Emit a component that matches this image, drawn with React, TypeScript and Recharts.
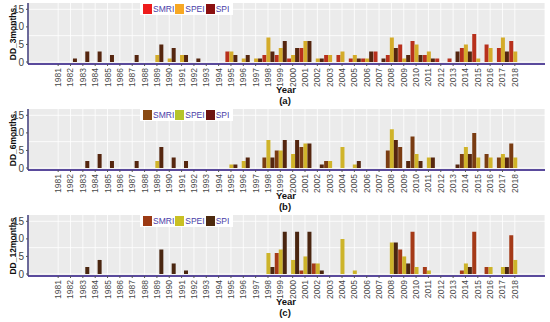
import React from 'react';
import { BarChart, Bar, XAxis, YAxis, CartesianGrid } from 'recharts';

const YEARS = [
  '1981', '1982', '1983', '1984', '1985', '1986', '1987', '1988', '1989', '1990',
  '1991', '1992', '1993', '1994', '1995', '1996', '1997', '1998', '1999', '2000',
  '2001', '2002', '2003', '2004', '2005', '2006', '2007', '2008', '2009', '2010',
  '2011', '2012', '2013', '2014', '2015', '2016', '2017', '2018',
];

// DD_3months
const SMRI_3 = [0,0,0,0,0,0,0,0,0,0,0,0,0,0,3,0,0,2,2,1,4,0,2,2,1,1,3,2,5,6,2,1,1,4,8,5,4,6];
const SPEI_3 = [0,0,0,0,0,0,0,0,2,1,2,0,0,0,3,1,1,7,4,2,6,1,2,3,2,1,0,7,1,5,3,0,0,5,1,4,7,3];
const SPI_3 = [0,1,3,3,2,0,2,0,5,4,2,1,0,0,2,2,1,3,6,4,6,1,0,0,1,3,1,4,2,2,1,0,3,3,0,0,3,0];

// DD_6months
const SMRI_6 = [0,0,0,0,0,0,0,0,0,0,0,0,0,0,0,0,0,3,5,0,6,0,2,0,0,0,0,5,6,9,0,0,0,4,10,4,3,7];
const SPEI_6 = [0,0,0,0,0,0,0,0,2,0,0,0,0,0,1,2,0,8,5,4,7,0,2,6,1,0,0,11,0,4,3,0,0,6,3,3,4,3];
const SPI_6 = [0,0,2,4,2,0,2,0,6,3,2,0,0,0,1,3,0,3,8,8,7,1,0,0,2,0,0,8,2,2,3,0,1,4,0,0,3,0];

// DD_12months
const SMRI_12 = [0,0,0,0,0,0,0,0,0,0,0,0,0,0,0,0,0,0,6,0,1,3,0,0,0,0,0,0,7,12,2,0,0,1,12,2,0,11];
const SPEI_12 = [0,0,0,0,0,0,0,0,0,0,0,0,0,0,0,0,0,6,7,4,5,3,0,10,1,0,0,9,5,2,1,0,0,3,0,2,2,4];
const SPI_12 = [0,0,2,4,0,0,0,0,7,3,1,0,0,0,0,0,0,2,12,12,12,1,0,0,0,0,0,9,3,0,0,0,0,2,0,0,2,0];

const FONT = '"Liberation Sans", Arial, sans-serif';
const GRID_Y = [0, 2.5, 5, 7.5, 10, 12.5, 15];

const YearTick = (props: any) => {
  const { x, y, payload } = props;
  return (
    <g transform={`translate(${x},${y}) rotate(-90)`}>
      <text x={0} y={0} dy="0.35em" textAnchor="end" fontSize={8.5} fill="#4a4a4a" fontFamily={FONT}>
        {payload.value}
      </text>
    </g>
  );
};

type PanelProps = {
  top: number;
  yLabel: string;
  tag: string;
  smri: number[];
  spei: number[];
  spi: number[];
  colors: string[];
  legendColors: string[];
};

const Panel = ({ top, yLabel, tag, smri, spei, spi, colors, legendColors }: PanelProps) => {
  const data = YEARS.map((year, i) => ({ year, SMRI: smri[i], SPEI: spei[i], SPI: spi[i] }));
  const names = ['SMRI', 'SPEI', 'SPI'];

  return (
    <div style={{ position: 'absolute', left: 0, top, width: 550, height: 106, fontFamily: FONT }}>
      <BarChart
        width={550}
        height={106}
        data={data}
        margin={{ top: 3, right: 5, bottom: 0, left: 0 }}
        barCategoryGap={0.6}
        barGap={0}
      >
        <CartesianGrid fill="#ebebeb" stroke="#ffffff" strokeWidth={0.8} horizontalValues={GRID_Y} />
        <XAxis
          dataKey="year"
          interval={0}
          height={42}
          padding={{ left: 24, right: 24 }}
          tick={<YearTick />}
          tickSize={2}
          tickLine={{ stroke: '#555' }}
          axisLine={{ stroke: '#5a4a9c', strokeWidth: 2 }}
        />
        <YAxis
          width={28}
          domain={[-0.57, 16.8]}
          ticks={[0, 5, 10, 15]}
          allowDataOverflow
          tickSize={2}
          tickLine={{ stroke: '#555' }}
          axisLine={{ stroke: '#3d3a7a', strokeWidth: 1.5 }}
          tick={{ fontSize: 10, fill: '#444', fontFamily: FONT }}
        />
        {names.map((n, k) => (
          <Bar key={n} dataKey={n} fill={colors[k]} isAnimationActive={false} />
        ))}
      </BarChart>

      <div
        style={{
          position: 'absolute', left: 12.5, top: 33.5, transform: 'translate(-50%, -50%) rotate(-90deg)',
          whiteSpace: 'nowrap', fontSize: 8.5, fontWeight: 'bold', color: '#111', lineHeight: '10px',
        }}
      >
        {yLabel}
      </div>

      <div
        style={{
          position: 'absolute', left: 140, top: 3, height: 12, background: '#fff', display: 'flex',
          alignItems: 'center', padding: '0 3px', fontSize: 8.5, color: '#4a40a8', lineHeight: '12px',
        }}
      >
        {names.map((n, k) => (
          <React.Fragment key={n}>
            <span style={{ display: 'inline-block', width: 9, height: 10, background: legendColors[k], marginRight: 1 }} />
            <span style={{ marginRight: 1 }}>{n}</span>
          </React.Fragment>
        ))}
      </div>

      <div style={{ position: 'absolute', left: 286, top: 84, transform: 'translateX(-50%)', fontSize: 9.5, fontWeight: 'bold', color: '#111', lineHeight: '11px' }}>
        Year
      </div>
      <div style={{ position: 'absolute', left: 285, top: 95, transform: 'translateX(-50%)', fontSize: 9.5, fontWeight: 'bold', color: '#111', lineHeight: '11px' }}>
        {tag}
      </div>
    </div>
  );
};

export default function App() {
  return (
    <div style={{ position: 'absolute', left: 0, top: 0, width: 550, height: 322, background: '#fff', overflow: 'hidden' }}>
      <Panel
        top={0}
        yLabel="DD_3months"
        tag="(a)"
        smri={SMRI_3}
        spei={SPEI_3}
        spi={SPI_3}
        colors={['#b8301c', '#d4ac2a', '#55260f']}
        legendColors={['#ee1c1c', '#f7a823', '#8b0f0f']}
      />
      <Panel
        top={106}
        yLabel="DD_6months"
        tag="(b)"
        smri={SMRI_6}
        spei={SPEI_6}
        spi={SPI_6}
        colors={['#7a3c12', '#d0b42a', '#55260f']}
        legendColors={['#8a4a12', '#b5c42a', '#6e1410']}
      />
      <Panel
        top={212}
        yLabel="DD_12months"
        tag="(c)"
        smri={SMRI_12}
        spei={SPEI_12}
        spi={SPI_12}
        colors={['#a53a18', '#cdb42a', '#4a2610']}
        legendColors={['#9c3a14', '#c9c024', '#4e2a0e']}
      />
    </div>
  );
}
